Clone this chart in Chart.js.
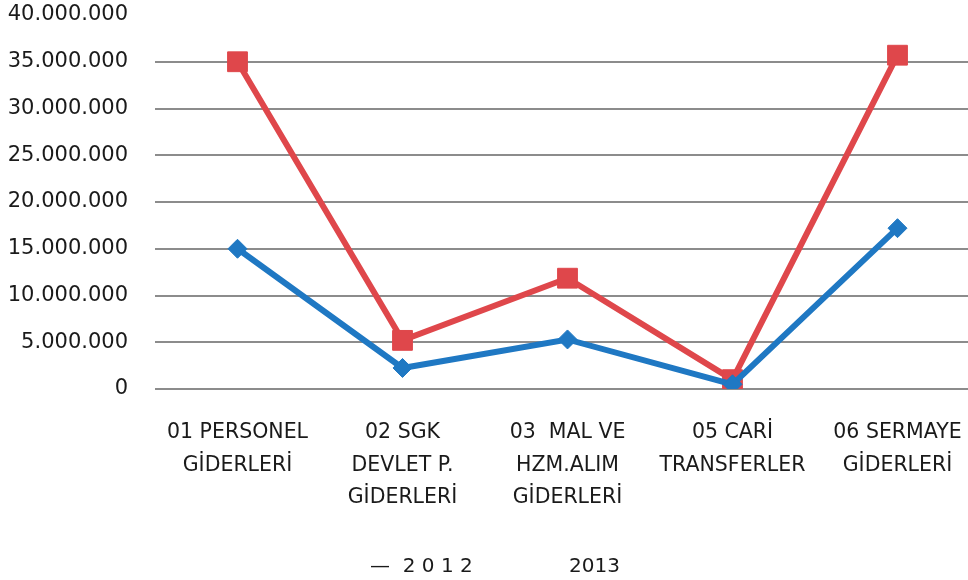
<!DOCTYPE html>
<html>
<head>
<meta charset="utf-8">
<script src="https://cdn.jsdelivr.net/npm/chart.js@4"></script>
<style>
  html, body { margin: 0; padding: 0; background: #fff; overflow: hidden; }
  canvas { display: block; }
</style>
</head>
<body>
<canvas id="c" width="980" height="587"></canvas>
<script>
const categories = [
  ["01 PERSONEL", "GİDERLERİ"],
  ["02 SGK", "DEVLET P.", "GİDERLERİ"],
  ["03  MAL VE", "HZM.ALIM", "GİDERLERİ"],
  ["05 CARİ", "TRANSFERLER"],
  ["06 SERMAYE", "GİDERLERİ"]
];
const series2012 = [15000000, 2250000, 5300000, 500000, 17200000];
const series2013 = [35000000, 5200000, 11850000, 1000000, 35700000];
const legendLabels = ["—  2 0 1 2", "            2013"];
const yMin = 0, yMax = 40000000, yStep = 5000000;

function fmt(v) {
  return String(Math.round(v)).replace(/\B(?=(\d{3})+(?!\d))/g, ".");
}

new Chart(document.getElementById("c"), {
  type: "line",
  data: {
    labels: categories,
    datasets: [
      {
        label: "2012",
        data: series2012,
        borderColor: "#1F78C3",
        backgroundColor: "#1F78C3",
        borderWidth: 6,
        pointStyle: "rectRot",
        pointRadius: 9.5,
        pointBorderWidth: 1,
        tension: 0
      },
      {
        label: "2013",
        data: series2013,
        borderColor: "#DF474B",
        backgroundColor: "#DF474B",
        borderWidth: 6,
        pointStyle: "rect",
        pointRadius: 14,
        pointBorderWidth: 1,
        tension: 0
      }
    ]
  },
  options: {
    responsive: false,
    maintainAspectRatio: false,
    animation: false,
    devicePixelRatio: 1,
    layout: { padding: 0, autoPadding: false },
    plugins: {
      tooltip: { enabled: false },
      legend: {
        position: "bottom",
        labels: {
          boxWidth: 0,
          boxHeight: 0,
          padding: 10,
          color: "#1a1a1a",
          font: { family: "DejaVu Sans", size: 20 },
          generateLabels: function () {
            return legendLabels.map((t, i) => ({
              text: t,
              fillStyle: "rgba(0,0,0,0)",
              strokeStyle: "rgba(0,0,0,0)",
              lineWidth: 0,
              hidden: false,
              datasetIndex: i,
              fontColor: "#1a1a1a"
            }));
          }
        }
      }
    },
    scales: {
      x: {
        offset: true,
        grid: { display: false, drawTicks: false },
        border: { display: false },
        ticks: {
          padding: 27,
          maxRotation: 0,
          autoSkip: false,
          color: "#1a1a1a",
          font: { family: "DejaVu Sans", size: 20.5, lineHeight: 1.6 }
        },
        afterFit: (s) => {
          s.height = 158;
          s.paddingLeft = 0;
          s.paddingRight = 0;
        }
      },
      y: {
        min: yMin,
        max: yMax,
        border: { display: false },
        grid: {
          drawTicks: false,
          lineWidth: 2,
          color: (ctx) => (ctx.tick && ctx.tick.value === yMax ? "rgba(0,0,0,0)" : "#8C8C8C")
        },
        ticks: {
          stepSize: yStep,
          padding: 27,
          color: "#1a1a1a",
          font: { family: "DejaVu Sans", size: 21 },
          callback: (v) => fmt(v)
        },
        afterFit: (s) => {
          s.width = 155;
          s.paddingTop = 15;
          s.paddingBottom = 0;
        }
      }
    }
  }
});
</script>
</body>
</html>
